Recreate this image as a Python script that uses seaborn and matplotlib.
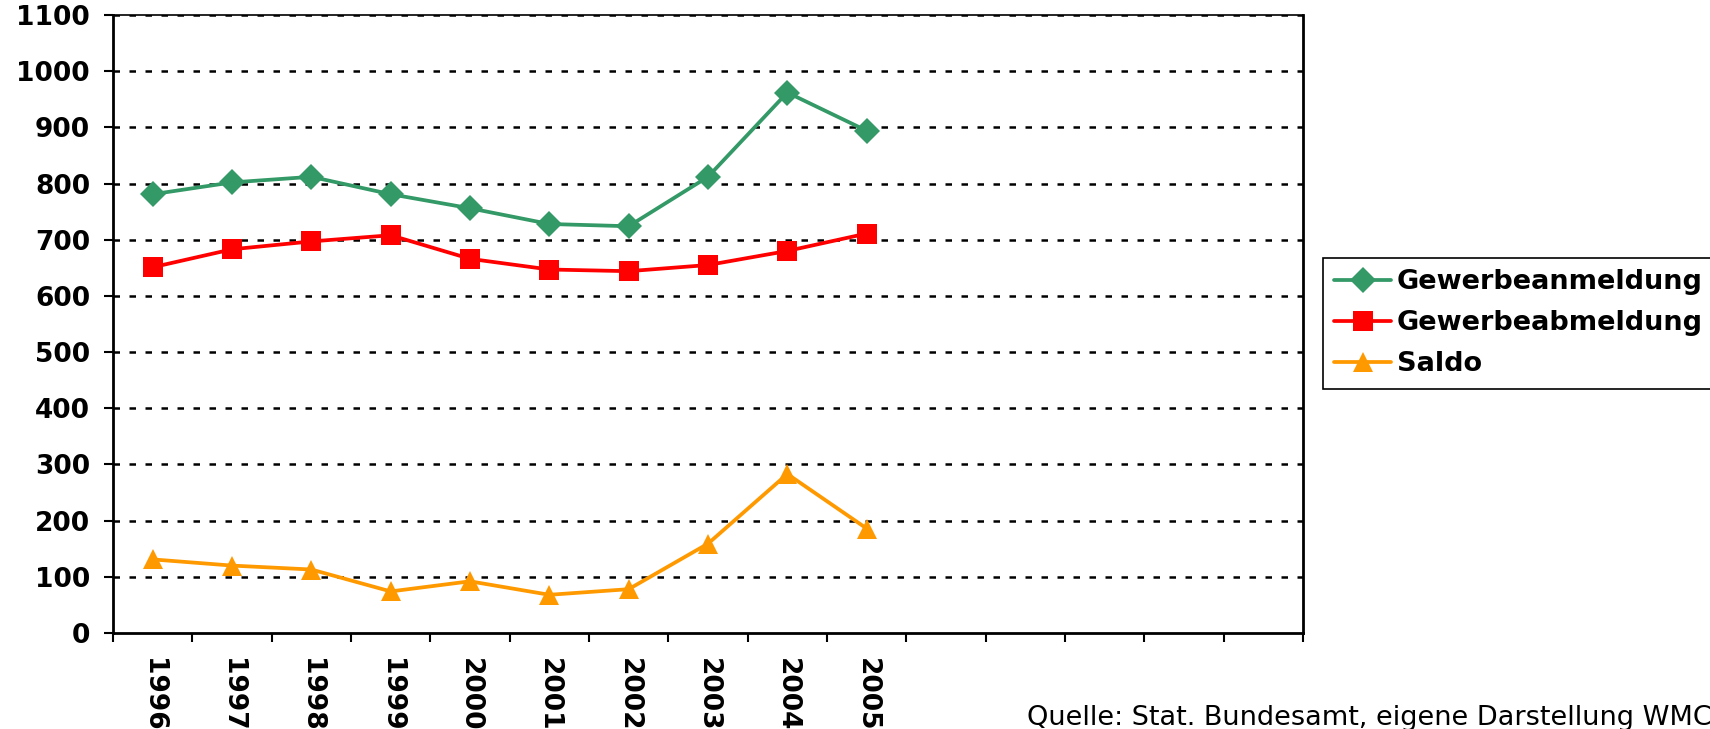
import numpy as np
import pandas as pd
import matplotlib
matplotlib.use("Agg")
import matplotlib.pyplot as plt
import seaborn as sns

# Gewerbean- und -abmeldungen 1996-2005
years = [1996, 1997, 1998, 1999, 2000, 2001, 2002, 2003, 2004, 2005]
anmeldung = [781, 802, 812, 781, 756, 728, 724, 812, 962, 894]
abmeldung = [651, 683, 697, 708, 666, 647, 644, 655, 680, 711]
saldo = [131, 120, 113, 74, 92, 68, 78, 159, 283, 186]
series_names = ["Gewerbeanmeldung", "Gewerbeabmeldung", "Saldo"]
y_ticks = list(range(0, 1101, 100))
source_text = "Quelle: Stat. Bundesamt, eigene Darstellung WMC"

df = pd.DataFrame({
    "Jahr": years * 3,
    "Wert": anmeldung + abmeldung + saldo,
    "Reihe": [series_names[0]] * 10 + [series_names[1]] * 10 + [series_names[2]] * 10,
})

sns.set_theme(style="white")
plt.rcParams["font.family"] = ["DejaVu Sans"]
plt.rcParams["text.color"] = "black"
plt.rcParams["xtick.color"] = "black"
plt.rcParams["ytick.color"] = "black"
plt.rcParams["xtick.labelcolor"] = "black"
plt.rcParams["ytick.labelcolor"] = "black"

fig = plt.figure(figsize=(17.1, 7.29), dpi=100)
ax = fig.add_axes([113 / 1710, 1 - 633 / 729, (1303 - 113) / 1710, (633 - 15) / 729])

palette = {"Gewerbeanmeldung": "#339966", "Gewerbeabmeldung": "#FF0000", "Saldo": "#FF9900"}
markers = {"Gewerbeanmeldung": "D", "Gewerbeabmeldung": "s", "Saldo": "^"}
msizes = {"Gewerbeanmeldung": 13.5, "Gewerbeabmeldung": 14, "Saldo": 15}

ax.set_axisbelow(True)
for y in y_ticks[1:]:
    ax.axhline(y, color="black", lw=1.8, ls=(0, (2.6, 3.8)), zorder=0)

for name in series_names:
    sub = df[df["Reihe"] == name]
    sns.lineplot(data=sub, x="Jahr", y="Wert", ax=ax, color=palette[name],
                 marker=markers[name], markersize=msizes[name],
                 markeredgewidth=0, lw=2.7, label=name, zorder=3)

ax.set_xlim(1995.5, 2010.5)
ax.set_ylim(0, 1100)
ax.set_xlabel("")
ax.set_ylabel("")

# y axis
ax.set_yticks(y_ticks)
ax.set_yticklabels([str(v) for v in y_ticks], fontsize=19, fontweight="bold")
ax.tick_params(axis="y", which="major", direction="out", length=6.5, width=1.5,
               color="black", left=True, pad=10)

# x axis: tick marks at category boundaries, labels at centres
ax.set_xticks(np.arange(1995.5, 2011.0, 1.0))
ax.set_xticklabels([])
ax.set_xticks(years, minor=True)
ax.set_xticklabels([str(y) for y in years], minor=True, fontsize=19,
                   fontweight="bold", rotation=-90, ha="center", va="top")
ax.tick_params(axis="x", which="major", direction="out", length=6.5, width=1.5,
               color="black", bottom=True)
ax.tick_params(axis="x", which="minor", length=0, pad=18, bottom=True)

for side in ["left", "bottom", "right"]:
    ax.spines[side].set_color("black")
    ax.spines[side].set_linewidth(2.0)
ax.spines["top"].set_color("black")
ax.spines["top"].set_linewidth(1.2)

ax.legend_.remove()
handles, labels = ax.get_legend_handles_labels()
leg = fig.legend(handles, labels, loc="upper left",
                 bbox_to_anchor=(1323 / 1710, 1 - 258 / 729),
                 frameon=True, fancybox=False, edgecolor="black", framealpha=1,
                 prop={"weight": "bold", "size": 19.5}, handlelength=2.1,
                 handletextpad=0.2, borderpad=0.42, labelspacing=0.55,
                 borderaxespad=0)
leg.get_frame().set_linewidth(1.2)
for t in leg.get_texts():
    t.set_color("black")

fig.text(1027 / 1710, 1 - 725 / 729, source_text, fontsize=19.5, va="baseline",
         ha="left", color="black")

fig.savefig("out.png", dpi=100)
